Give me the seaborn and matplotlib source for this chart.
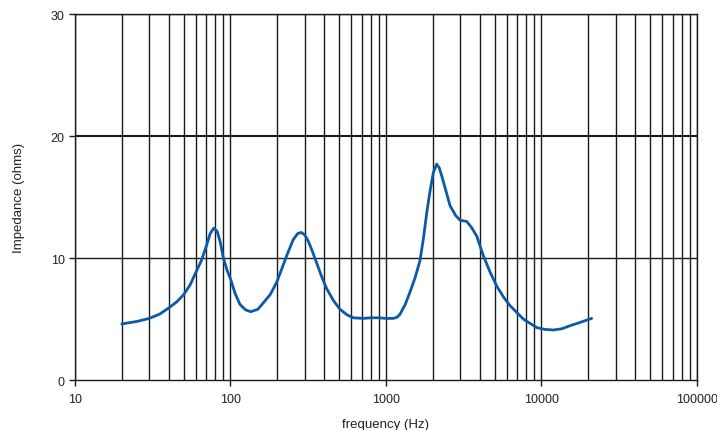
import matplotlib
matplotlib.use("Agg")
import matplotlib.pyplot as plt
import matplotlib.ticker as mticker
import seaborn as sns
import numpy as np
import pandas as pd

# impedance curve
freq = [20, 25, 30, 35, 40, 45, 50, 55, 60, 65, 70, 74, 78, 82, 86, 90, 95, 100,
        107, 115, 125, 135, 150, 162, 180, 198, 215, 230, 253, 270, 285, 300, 316,
        335, 358, 385, 415, 460, 506, 560, 616, 715, 800, 900, 1000, 1114, 1180,
        1231, 1330, 1426, 1540, 1655, 1740, 1828, 1920, 2016, 2117, 2200, 2281,
        2430, 2580, 2800, 2994, 3305, 3550, 3832, 4225, 4650, 5153, 5700, 6271,
        7637, 9303, 10500, 11910, 13500, 15250, 18000, 21020]
ohms = [4.6, 4.8, 5.05, 5.4, 5.9, 6.4, 7.0, 7.8, 8.85, 9.8, 11.0, 12.0, 12.45, 12.2,
        11.3, 10.0, 9.0, 8.3, 7.1, 6.2, 5.75, 5.6, 5.8, 6.3, 7.0, 8.0, 9.2, 10.2,
        11.5, 12.0, 12.1, 11.9, 11.4, 10.6, 9.6, 8.5, 7.5, 6.5, 5.8, 5.35, 5.1,
        5.05, 5.1, 5.1, 5.05, 5.05, 5.15, 5.4, 6.2, 7.2, 8.4, 9.8, 11.6, 13.7,
        15.5, 17.0, 17.7, 17.4, 16.75, 15.5, 14.3, 13.5, 13.1, 13.0, 12.5, 11.8,
        10.2, 8.9, 7.7, 6.8, 6.1, 5.0, 4.3, 4.15, 4.1, 4.2, 4.45, 4.75, 5.05]

x_ticks = [10, 100, 1000, 10000, 100000]
y_ticks = [0, 10, 20, 30]

df = pd.DataFrame({"freq": freq, "ohms": ohms})

sns.set_style("white")
plt.rcParams['font.family'] = ['Liberation Sans', 'DejaVu Sans']

fig = plt.figure(figsize=(7.17, 4.31), dpi=100)
ax = fig.add_axes([0.1046, 0.116, 0.8675, 0.849])

ax.set_xscale("log")
ax.set_xlim(10, 100000)
ax.set_ylim(0, 30)

# vertical grid at every 1..9 of each decade
for d in x_ticks[:-1]:
    for m in range(1, 10):
        ax.axvline(d * m, color="#1a1a1a", lw=1.0, zorder=1)
ax.axvline(100000, color="#1a1a1a", lw=1.0, zorder=1)
for yv in y_ticks[1:]:
    ax.axhline(yv, color="#1a1a1a", lw=1.5 if yv == 20 else 1.0, zorder=1)

sns.lineplot(data=df, x="freq", y="ohms", ax=ax, color="#0a5aa8", lw=2, zorder=3)
ax.lines[-1].set_solid_joinstyle("round")

ax.set_xticks(x_ticks)
ax.xaxis.set_major_formatter(mticker.FuncFormatter(lambda v, p: f"{int(v)}"))
ax.xaxis.set_minor_locator(mticker.NullLocator())
ax.set_yticks(y_ticks)
ax.tick_params(axis="both", direction="out", length=4, width=1, color="#1a1a1a",
               labelsize=9, labelcolor="#222222", bottom=True, left=True)
ax.tick_params(axis="x", pad=5)

for s in ["left", "bottom", "top", "right"]:
    ax.spines[s].set_color("#1a1a1a")
    ax.spines[s].set_linewidth(1.0)

ax.set_xlabel("frequency (Hz)", fontsize=9.5, color="#222222")
ax.set_ylabel("Impedance (ohms)", fontsize=9.5, color="#222222")
ax.xaxis.set_label_coords(0.5, -0.105)
ax.yaxis.set_label_coords(-0.08, 0.5)

fig.savefig("out.png", dpi=100)
